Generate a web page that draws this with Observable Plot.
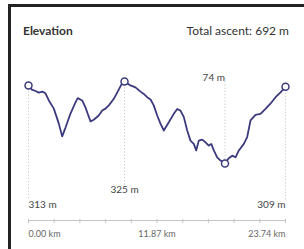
<!DOCTYPE html>
<html><head><meta charset="utf-8">
<script src="https://cdn.jsdelivr.net/npm/d3@7"></script>
<script src="https://cdn.jsdelivr.net/npm/@observablehq/plot@0.6"></script>
<style>
body{margin:0;background:#fff;font-family:Lato,sans-serif}
#wrap{position:relative;width:304px;height:249px;overflow:hidden;background:#fff}
#chart{position:absolute;left:0;top:0}
#border{position:absolute;left:8px;top:4px;right:-10px;bottom:-10px;border-top:3px solid #232323;border-left:3px solid #232323}
.t{position:absolute;font-size:12px;color:#333;line-height:12px;white-space:nowrap}
</style></head><body>
<div id="wrap"><div id="chart"></div><div id="border"></div>
<div class="t" id="title" style="left:23px;top:25px;font-weight:700"></div>
<div class="t" id="ascent" style="right:15px;top:25px"></div>
</div>
<script>
const titleText = "Elevation";
const ascentText = "Total ascent: 692 m";
const km = [0.00,0.31,0.65,0.95,1.27,1.57,1.88,2.34,2.80,3.11,3.42,3.88,4.34,4.55,4.96,5.27,5.42,5.73,6.03,6.49,6.81,7.11,7.42,7.88,8.19,8.59,8.87,9.42,9.88,10.35,10.65,10.96,11.27,11.57,11.89,12.19,12.50,12.96,13.42,13.74,14.04,14.35,14.66,14.96,15.27,15.49,15.73,16.04,16.35,16.65,16.88,17.12,17.43,17.74,18.15,18.50,18.82,19.12,19.43,19.89,20.20,20.51,20.97,21.43,21.89,22.35,22.82,23.28,23.74];
const elev = [313,300,296,291,294,289,267,242,196,157,184,227,261,274,267,245,231,203,208,221,236,242,252,272,291,316,325,313,307,294,287,277,270,252,221,196,175,200,226,241,236,216,175,144,134,114,144,147,139,129,134,114,93,83,74,90,98,93,114,134,155,206,223,226,241,257,277,292,309];
const totalKm = 23.74;
const tickKm = d3.range(11).map(i => i * totalKm / 10);
const axisLabels = ["0.00 km", "11.87 km", "23.74 km"];
const axisLabelKm = [0, totalKm / 2, totalKm];
const markerIdx = [0, 26, 54, 68];
const markerText = ["313 m", "325 m", "74 m", "309 m"];

document.getElementById("title").textContent = titleText;
document.getElementById("ascent").textContent = ascentText;

const profile = km.map((k, i) => ({km: k, elev: elev[i]}));
const markers = markerIdx.map((j, i) => ({km: km[j], elev: elev[j], label: markerText[i]}));
const [start, peak, low, end] = markers;
const eMin = d3.min(elev), eMax = d3.max(elev);
const lineColor = "#3c3a7e";
const dotted = {stroke: "#c8c8c8", strokeDasharray: "1.2,2", strokeWidth: 1};

const chart = Plot.plot({
  width: 304, height: 249,
  marginLeft: 28, marginRight: 19, marginTop: 81, marginBottom: 29,
  insetBottom: 57,
  style: {fontFamily: "Lato, sans-serif", fontSize: "10px", background: "transparent", overflow: "visible"},
  x: {domain: [0, totalKm]},
  y: {domain: [eMin, eMax], axis: null},
  marks: [
    Plot.ruleX([start, end], {x: "km", y1: "elev", y2: () => eMin, insetBottom: -37, ...dotted}),
    Plot.ruleX([peak], {x: "km", y1: "elev", y2: () => eMin, insetBottom: -22, ...dotted}),
    Plot.ruleX([low], {x: "km", y1: () => eMax, y2: "elev", insetTop: -3, ...dotted}),
    Plot.frame({anchor: "bottom", stroke: "#c4c4c4"}),
    Plot.axisX(tickKm, {tickSize: 4, dy: -1, tickFormat: () => "", stroke: "#c4c4c4", label: null}),
    Plot.text([axisLabelKm[0]], {x: d => d, text: () => axisLabels[0], frameAnchor: "bottom", dy: 16.5, textAnchor: "start", fill: "#666", fontSize: 9}),
    Plot.text([axisLabelKm[1]], {x: d => d, text: () => axisLabels[1], frameAnchor: "bottom", dy: 16.5, textAnchor: "middle", fill: "#666", fontSize: 9}),
    Plot.text([axisLabelKm[2]], {x: d => d, text: () => axisLabels[2], frameAnchor: "bottom", dy: 16.5, textAnchor: "end", fill: "#666", fontSize: 9}),
    Plot.line(profile, {x: "km", y: "elev", stroke: lineColor, strokeWidth: 1.8, strokeLinejoin: "round"}),
    Plot.dot(markers, {x: "km", y: "elev", r: 3.5, stroke: lineColor, strokeWidth: 1.5, fill: "white"}),
    Plot.text([start], {x: "km", text: "label", frameAnchor: "bottom", dy: -13, textAnchor: "start", fill: "#444", fontSize: 10}),
    Plot.text([peak], {x: "km", text: "label", frameAnchor: "bottom", dy: -28, textAnchor: "middle", fill: "#444", fontSize: 10}),
    Plot.text([end], {x: "km", text: "label", frameAnchor: "bottom", dy: -13, textAnchor: "end", fill: "#444", fontSize: 10}),
    Plot.text([low], {x: "km", text: "label", frameAnchor: "top", dy: -7.5, textAnchor: "end", fill: "#444", fontSize: 10})
  ]
});
document.getElementById("chart").appendChild(chart);
</script>
</body></html>
